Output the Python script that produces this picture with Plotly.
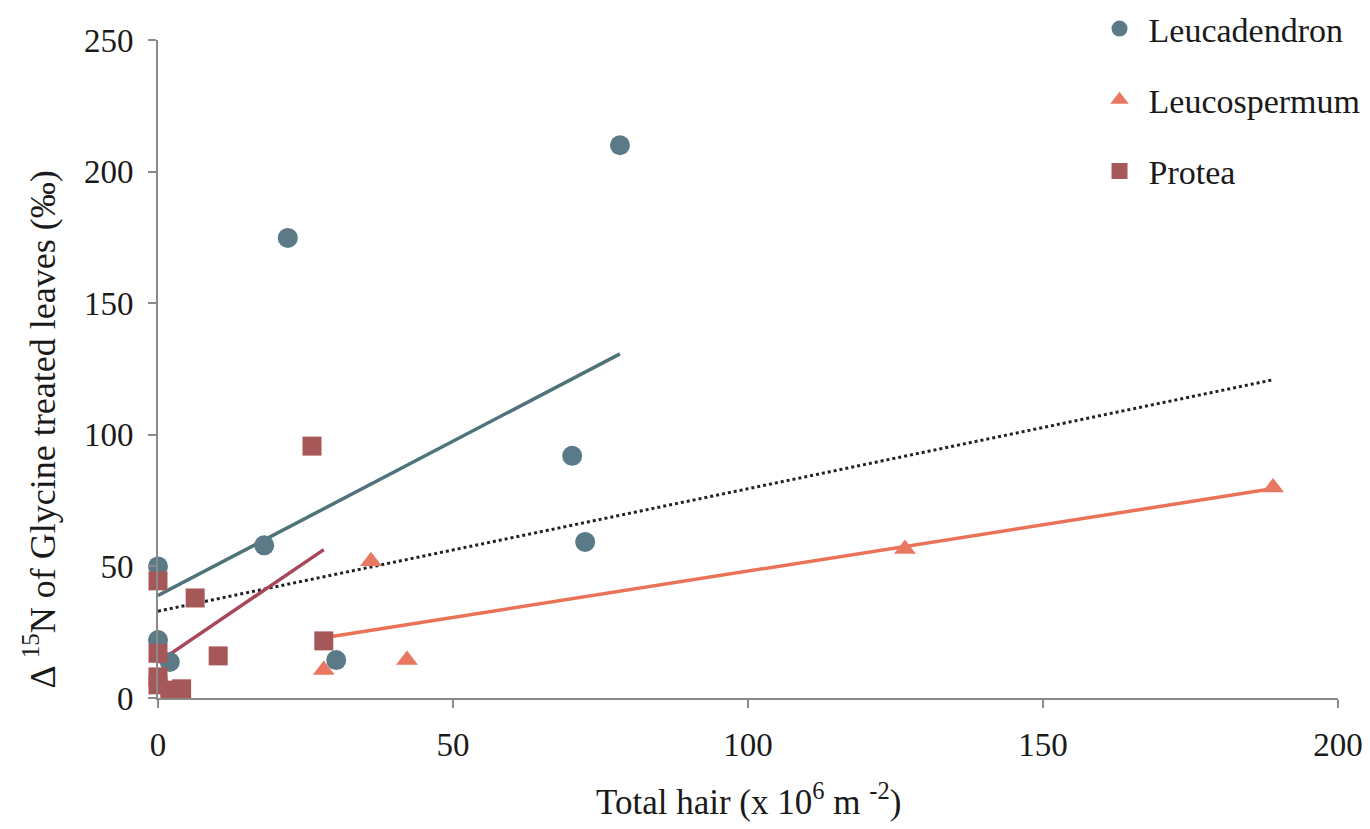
import numpy as np
import plotly.graph_objects as go

# ---- data ----
leucadendron_x = [0, 0, 2, 18, 22, 30.2, 70.2, 72.4, 78.3]
leucadendron_y = [50, 22, 13.7, 58, 174.8, 14.4, 92, 59.3, 210]

leucospermum_x = [28.1, 36.1, 42.2, 126.6, 189]
leucospermum_y = [10.6, 52, 14.4, 56.6, 80]

protea_x = [0, 0, 0, 0, 2, 4, 6.3, 10.2, 26.1, 28.1]
protea_y = [44.5, 17, 8, 5, 3, 3.5, 38, 16, 95.7, 21.7]

x_ticks = [0, 50, 100, 150, 200]
y_ticks = [0, 50, 100, 150, 200, 250]

FONT = "Liberation Serif"
FS = 33

c_leucad = "#5b7a87"
c_leucad_line = "#4e7479"
c_leucos = "#e8785f"
c_leucos_line = "#ea7357"
c_protea = "#a65858"
c_protea_line = "#a8465a"


def fit_line(xs, ys):
    xs = np.asarray(xs, float)
    ys = np.asarray(ys, float)
    m, b = np.polyfit(xs, ys, 1)
    xx = np.array([xs.min(), xs.max()])
    return xx, m * xx + b


fig = go.Figure()

# trend lines
all_x = leucadendron_x + leucospermum_x + protea_x
all_y = leucadendron_y + leucospermum_y + protea_y
lx, ly = fit_line(all_x, all_y)
fig.add_trace(go.Scatter(x=lx, y=ly, mode="lines", showlegend=False,
                         line=dict(color="#222222", width=3, dash="dot"),
                         hoverinfo="skip"))
lx, ly = fit_line(leucadendron_x, leucadendron_y)
fig.add_trace(go.Scatter(x=lx, y=ly, mode="lines", showlegend=False,
                         line=dict(color=c_leucad_line, width=3.5), hoverinfo="skip"))
lx, ly = fit_line(leucospermum_x, leucospermum_y)
fig.add_trace(go.Scatter(x=lx, y=ly, mode="lines", showlegend=False,
                         line=dict(color=c_leucos_line, width=3.5), hoverinfo="skip"))
lx, ly = fit_line(protea_x, protea_y)
fig.add_trace(go.Scatter(x=lx, y=ly, mode="lines", showlegend=False,
                         line=dict(color=c_protea_line, width=3.5), hoverinfo="skip"))

# markers
fig.add_trace(go.Scatter(x=leucadendron_x, y=leucadendron_y, mode="markers",
                         name="Leucadendron", legendgroup="a", cliponaxis=False,
                         marker=dict(symbol="circle", size=20, color=c_leucad)))
fig.add_trace(go.Scatter(x=leucospermum_x, y=leucospermum_y, mode="markers",
                         name="Leucospermum", legendgroup="b", cliponaxis=False,
                         marker=dict(symbol="triangle-up", size=19, color=c_leucos)))
fig.add_trace(go.Scatter(x=protea_x, y=protea_y, mode="markers",
                         name="Protea", legendgroup="c", cliponaxis=False,
                         marker=dict(symbol="square", size=19, color=c_protea)))

axis_common = dict(showgrid=False, zeroline=False, showline=True,
                   linecolor="#8a8a8a", linewidth=2, ticks="outside",
                   ticklen=8, tickwidth=2, tickcolor="#8a8a8a",
                   ticklabelstandoff=8, automargin=False,
                   tickfont=dict(family=FONT, size=FS, color="#1a1a1a"))

fig.update_xaxes(range=[0, 200], tickvals=x_ticks, ticktext=[str(v) for v in x_ticks],
                 **axis_common)
fig.update_yaxes(range=[0, 250], tickvals=y_ticks, ticktext=[str(v) for v in y_ticks],
                 **axis_common)

fig.add_annotation(text="Δ <sup>15</sup>N of Glycine treated leaves (‰)",
                   xref="paper", yref="paper", x=-0.1, y=0.408,
                   xanchor="center", yanchor="middle", textangle=-90,
                   showarrow=False, font=dict(family=FONT, size=36, color="#1a1a1a"))
fig.add_annotation(text="Total hair (x 10<sup>6</sup> m <sup>-2</sup>)",
                   xref="paper", yref="paper", x=0.5, y=-0.155,
                   xanchor="center", yanchor="middle",
                   showarrow=False, font=dict(family=FONT, size=35, color="#1a1a1a"))

fig.update_layout(
    width=1370, height=829,
    margin=dict(l=158, r=32, t=40, b=131, autoexpand=False),
    plot_bgcolor="white", paper_bgcolor="white",
    font=dict(family=FONT, size=FS, color="#1a1a1a"),
    legend=dict(xref="container", yref="container", x=0.796, y=1.0,
                xanchor="left", yanchor="top", itemwidth=48,
                tracegroupgap=24, bgcolor="rgba(0,0,0,0)",
                font=dict(family=FONT, size=34, color="#1a1a1a")),
)

fig.write_html("out.html", config={"displayModeBar": False},
               post_script="document.body.style.margin='0';document.body.style.overflow='hidden';")
